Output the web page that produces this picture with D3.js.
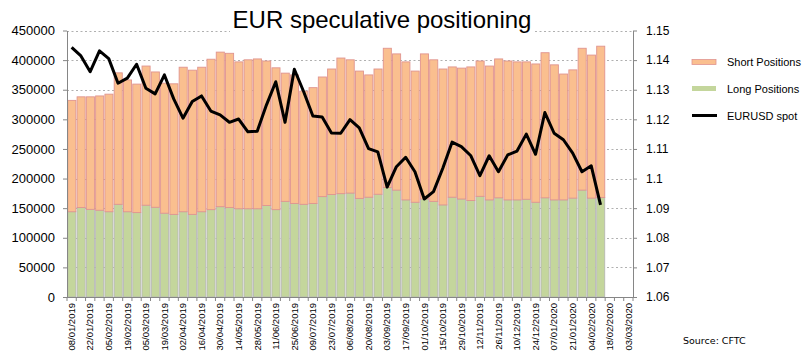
<!DOCTYPE html>
<html>
<head>
<meta charset="utf-8">
<script src="https://cdn.jsdelivr.net/npm/d3@7"></script>
<style>
  body { margin: 0; background: #fff; }
  text { font-family: Arial, "Liberation Sans", sans-serif; fill: #000; }
</style>
</head>
<body>
<div id="root"></div>
<script>
var dates = ["08/01/2019","15/01/2019","22/01/2019","29/01/2019","05/02/2019","12/02/2019",
  "19/02/2019","26/02/2019","05/03/2019","12/03/2019","19/03/2019","26/03/2019","02/04/2019",
  "09/04/2019","16/04/2019","23/04/2019","30/04/2019","07/05/2019","14/05/2019","21/05/2019",
  "28/05/2019","04/06/2019","11/06/2019","18/06/2019","25/06/2019","02/07/2019","09/07/2019",
  "16/07/2019","23/07/2019","30/07/2019","06/08/2019","13/08/2019","20/08/2019","27/08/2019",
  "03/09/2019","10/09/2019","17/09/2019","24/09/2019","01/10/2019","08/10/2019","15/10/2019",
  "22/10/2019","29/10/2019","05/11/2019","12/11/2019","19/11/2019","26/11/2019","03/12/2019",
  "10/12/2019","17/12/2019","24/12/2019","31/12/2019","07/01/2020","14/01/2020","21/01/2020",
  "28/01/2020","04/02/2020","11/02/2020","18/02/2020","25/02/2020","03/03/2020"];

var longPos = [144000,151000,148000,146500,144000,156500,144000,142500,155000,151500,
  141500,139500,144000,139500,144000,147500,152500,151000,149000,149000,
  149000,154500,147500,161500,158000,156500,158000,169500,173000,174500,
  175500,166500,168500,173500,185000,180500,164000,160000,165500,161500,
  155500,168500,165500,163000,170000,164000,167500,164000,164000,165000,
  160000,167500,164000,164000,167000,180500,167000,168000];

var shortPos = [188000,187000,190000,193000,198500,222000,222500,217000,235000,228500,
  219500,220500,244000,243500,244000,254000,261000,260500,248000,251500,
  253000,244000,239500,216500,217000,191000,195500,202000,212000,229000,
  225000,215000,206500,211500,235000,230000,233000,221500,245000,239000,
  229500,220000,221000,225500,228500,226000,234500,234500,233000,232000,
  233500,245000,228000,212500,216500,239500,241500,255500];

var eurusd = [1.1443,1.1414,1.1361,1.1431,1.1405,1.1322,1.1339,1.1386,1.1305,1.1286,
  1.1350,1.1269,1.1204,1.1260,1.1279,1.1228,1.1215,1.1190,1.1201,1.1158,
  1.1160,1.1249,1.1327,1.1190,1.1369,1.1294,1.1211,1.1208,1.1154,1.1153,
  1.1199,1.1171,1.1101,1.1090,1.0971,1.1040,1.1072,1.1023,1.0931,1.0956,
  1.1035,1.1123,1.1108,1.1078,1.1010,1.1077,1.1023,1.1080,1.1093,1.1150,
  1.1082,1.1223,1.1153,1.1131,1.1086,1.1023,1.1043,1.0911];

var leftTicks = d3.range(0, 450001, 50000);
var rightTicks = [1.06,1.07,1.08,1.09,1.1,1.11,1.12,1.13,1.14,1.15];

function drawChart() {
  var width = 806, height = 363;
  var pLeft = 67, pRight = 633, pTop = 30.5, pBottom = 297;

  var svg = d3.select('#root')
    .append('svg')
      .attr('width', width)
      .attr('height', height);

  svg.append('rect').attr('width', width).attr('height', height).attr('fill', '#fff');

  var x = d3.scaleBand()
    .domain(dates)
    .range([pLeft, pRight]);
  var band = x.step();
  var bw = band - 1.2;

  var yL = d3.scaleLinear().domain([0, 450000]).range([pBottom, pTop]);
  var yR = d3.scaleLinear().domain([1.06, 1.15]).range([pBottom, pTop]);

  // dotted gridlines
  svg.append('g')
    .selectAll('line')
    .data(leftTicks.slice(1))
    .enter().append('line')
      .attr('x1', pLeft).attr('x2', pRight)
      .attr('y1', function(d) { return Math.round(yL(d)) + 0.5; })
      .attr('y2', function(d) { return Math.round(yL(d)) + 0.5; })
      .attr('stroke', '#b0b0b0')
      .attr('stroke-dasharray', '2,2.5');

  // title sits on a white box that hides the top gridline
  svg.append('rect')
    .attr('x', 230).attr('y', 4).attr('width', 305).attr('height', 28)
    .attr('fill', '#fff');
  svg.append('text')
    .attr('x', 382).attr('y', 28)
    .attr('text-anchor', 'middle')
    .style('font-size', '24px')
    .text('EUR speculative positioning');

  var bars = svg.append('g');

  bars.selectAll('rect.long')
    .data(longPos)
    .enter().append('rect')
      .attr('class', 'long')
      .attr('x', function(d, i) { return x(dates[i]) + 0.8; })
      .attr('y', function(d) { return yL(d); })
      .attr('width', bw)
      .attr('height', function(d) { return yL(0) - yL(d); })
      .attr('fill', '#c4d69c')
      .attr('stroke', '#b4b4b4')
      .attr('stroke-width', 0.8);

  bars.selectAll('rect.short')
    .data(shortPos)
    .enter().append('rect')
      .attr('class', 'short')
      .attr('x', function(d, i) { return x(dates[i]) + 0.8; })
      .attr('y', function(d, i) { return yL(d + longPos[i]); })
      .attr('width', bw)
      .attr('height', function(d, i) { return yL(longPos[i]) - yL(d + longPos[i]); })
      .attr('fill', '#fabf8f')
      .attr('stroke', '#e0948f')
      .attr('stroke-width', 0.9);

  var axisColor = '#868686';

  var gL = svg.append('g')
    .attr('transform', 'translate(' + pLeft + ',0)')
    .call(d3.axisLeft(yL).tickValues(leftTicks).tickFormat(d3.format('d')).tickSize(4).tickPadding(8).tickSizeOuter(0));
  gL.selectAll('text').style('font-size', '13px');

  var gR = svg.append('g')
    .attr('transform', 'translate(' + pRight + ',0)')
    .call(d3.axisRight(yR).tickValues(rightTicks)
      .tickFormat(function(d) { return String(+d.toFixed(2)); })
      .tickSize(4).tickPadding(9).tickSizeOuter(0));
  gR.selectAll('text').style('font-size', '12px');

  [gL, gR].forEach(function(g) {
    g.selectAll('path, line').attr('stroke', axisColor);
  });

  // bottom axis: line, boundary ticks, rotated labels
  svg.append('line')
    .attr('x1', pLeft).attr('x2', pRight)
    .attr('y1', pBottom + 0.5).attr('y2', pBottom + 0.5)
    .attr('stroke', axisColor);

  svg.append('g')
    .selectAll('line')
    .data(d3.range(dates.length + 1))
    .enter().append('line')
      .attr('x1', function(i) { return pLeft + i * band; })
      .attr('x2', function(i) { return pLeft + i * band; })
      .attr('y1', pBottom).attr('y2', pBottom + 4)
      .attr('stroke', axisColor);

  svg.append('g')
    .selectAll('text')
    .data(dates.filter(function(d, i) { return i % 2 === 0; }))
    .enter().append('text')
      .attr('transform', function(d) {
        return 'translate(' + (x(d) + band / 2 + 3.3) + ',' + (pBottom + 6) + ') rotate(-90)';
      })
      .attr('text-anchor', 'end')
      .style('font-size', '9.5px')
      .text(function(d) { return d; });

  // EURUSD line
  var line = d3.line()
    .x(function(d, i) { return x(dates[i]) + band / 2; })
    .y(function(d) { return yR(d); });

  svg.append('path')
    .datum(eurusd)
    .attr('d', line)
    .attr('fill', 'none')
    .attr('stroke', '#000')
    .attr('stroke-width', 3)
    .attr('stroke-linejoin', 'round');

  // legend
  var lg = svg.append('g');
  lg.append('rect').attr('x', 692).attr('y', 59.5).attr('width', 24).attr('height', 5)
    .attr('fill', '#fabf8f').attr('stroke', '#e0948f').attr('stroke-width', 0.8);
  lg.append('rect').attr('x', 692).attr('y', 86).attr('width', 24).attr('height', 5)
    .attr('fill', '#c4d69c');
  lg.append('line').attr('x1', 692).attr('x2', 717).attr('y1', 115.5).attr('y2', 115.5)
    .attr('stroke', '#000').attr('stroke-width', 3);
  [['Short Positions', 66], ['Long Positions', 92.5], ['EURUSD spot', 119.5]].forEach(function(t) {
    lg.append('text').attr('x', 727).attr('y', t[1]).style('font-size', '11px').text(t[0]);
  });

  svg.append('text')
    .attr('x', 683).attr('y', 344)
    .style('font-size', '9.5px')
    .style('font-family', '"DejaVu Sans", sans-serif')
    .text('Source: CFTC');
}

drawChart();
</script>
</body>
</html>
